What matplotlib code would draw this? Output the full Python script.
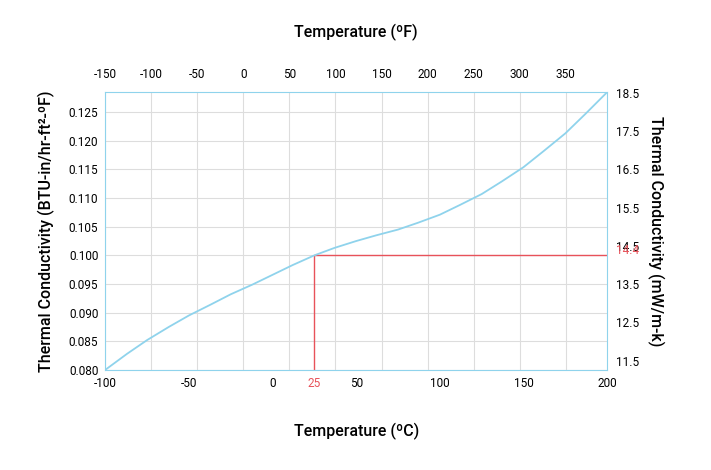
import numpy as np
import matplotlib.pyplot as plt

plt.rcParams["font.family"] = ["Roboto", "DejaVu Sans"]
plt.rcParams["axes.unicode_minus"] = False

# Curve: temperature (°C) vs conductivity (BTU-in/hr-ft2-°F)
temp_c = [-100, -87, -75, -62, -50, -37, -25, -12, 0, 12, 25, 37, 50, 62, 75, 87,
          100, 112, 125, 137, 150, 162, 175, 187, 200]
k_btu = [0.0800, 0.0828, 0.0852, 0.0875, 0.0895, 0.0914, 0.0932, 0.0949, 0.0966,
         0.0983, 0.1000, 0.1013, 0.1025, 0.1035, 0.1045, 0.1057, 0.1071, 0.1088,
         0.1107, 0.1129, 0.1154, 0.1182, 0.1213, 0.1247, 0.1285]

mark_c = 25
mark_k = 0.100
mark_mw = "14.4"

c_ticks = [-100, -50, 0, 25, 50, 100, 150, 200]
f_ticks = list(range(-150, 400, 50))
btu_ticks = np.arange(0.080, 0.1251, 0.005)
mw_ticks = [11.5, 12.5, 13.5, 14.5, 15.5, 16.5, 17.5, 18.5]

# axis scale mappings as drawn in the reference
c2f = lambda c: -150 + (np.asarray(c) + 100) * 545 / 300
f2c = lambda f: (np.asarray(f) + 150) * 300 / 545 - 100
btu2mw = lambda k: 149.6 * np.asarray(k) - 0.706
mw2btu = lambda m: (np.asarray(m) + 0.706) / 149.6

fig = plt.figure(figsize=(7.11, 4.70), dpi=100)
ax = fig.add_axes([0.148, 0.213, 0.706, 0.591])

ax.plot(temp_c, k_btu, color="#8fd3ec", lw=1.3, zorder=3)
ax.plot([mark_c, mark_c, 200], [0.080, mark_k, mark_k], color="#e8525a", lw=1.0, zorder=2)

ax.set_xlim(-100, 200)
ax.set_ylim(0.080, 0.1285)
ax.set_xticks(c_ticks)
ax.set_yticks(btu_ticks)
ax.set_yticklabels([f"{v:.3f}" for v in btu_ticks])
ax.tick_params(length=0, labelsize=8.5, pad=5)
for lab in ax.get_xticklabels():
    if lab.get_text() == "25":
        lab.set_color("#e8525a")

# vertical grid follows the °F ticks
for f in f_ticks:
    ax.axvline(f2c(f), color="#dddddd", lw=0.8, zorder=0)
ax.grid(axis="y", color="#dddddd", lw=0.8, zorder=0)
for s in ax.spines.values():
    s.set_color("#8fd3ec")

top = ax.secondary_xaxis("top", functions=(c2f, f2c))
top.set_xticks(f_ticks)
top.tick_params(length=0, labelsize=8.5, pad=8)
top.spines["top"].set_visible(False)

right = ax.secondary_yaxis("right", functions=(btu2mw, mw2btu))
right.set_yticks(mw_ticks + [14.43])
right.set_yticklabels([f"{v}" for v in mw_ticks] + [mark_mw])
right.get_yticklabels()[-1].set_color("#e8525a")
right.tick_params(length=0, labelsize=8.5, pad=6)
right.spines["right"].set_visible(False)

ax.set_xlabel("Temperature (ºC)", fontsize=11.5, fontweight="medium", labelpad=24)
top.set_xlabel("Temperature (ºF)", fontsize=11.5, fontweight="medium", labelpad=22)
ax.set_ylabel("Thermal Conductivity (BTU-in/hr-ft²-ºF)", fontsize=11.5, fontweight="medium", labelpad=10)
right.set_ylabel("Thermal Conductivity (mW/m-k)", fontsize=11.5, fontweight="medium",
                 rotation=270, labelpad=18)

fig.savefig("out.png", dpi=100)
